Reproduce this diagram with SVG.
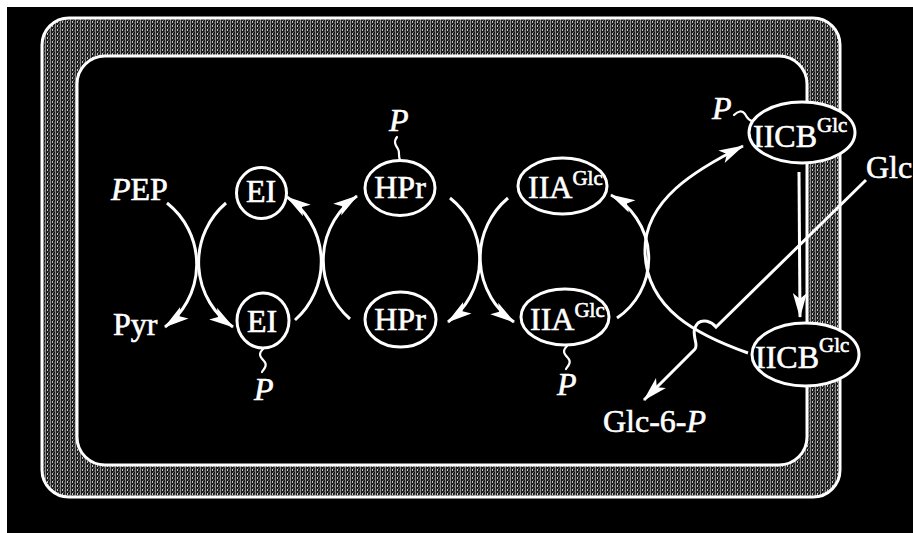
<svg xmlns="http://www.w3.org/2000/svg" width="913" height="533" viewBox="0 0 913 533">
  <style>
    .t { font-family: "Liberation Serif", "Times New Roman", serif; font-size: 32px; fill: #fff; stroke: #fff; stroke-width: 0.6; }
    .i { font-style: italic; }
    .sup { font-size: 21px; }
    .node { fill: #000; stroke: #fff; stroke-width: 3; }
    .arc { fill: none; stroke: #fff; stroke-width: 3; }
    .tilde { fill: none; stroke: #fff; stroke-width: 2.2; stroke-linecap: round; }
    .membrane { stroke: #fff; stroke-width: 3; }
  </style>
  <defs>
    <!-- grainy fill of the cell envelope -->
    <pattern id="grain" width="5" height="4" patternUnits="userSpaceOnUse">
      <rect width="5" height="4" fill="#1c1c1c"/>
      <rect x="0" y="0" width="1" height="4" fill="#8a8a8a"/>
      <rect x="2" y="1" width="1" height="2" fill="#c8c8c8"/>
      <rect x="3" y="0" width="1" height="1" fill="#606060"/>
      <rect x="4" y="2" width="1" height="2" fill="#4a4a4a"/>
    </pattern>
    <marker id="head" viewBox="-25 -8 26 16" refX="0" refY="0" markerWidth="26" markerHeight="16" markerUnits="userSpaceOnUse" orient="auto">
      <path d="M1,0 L-24,-7 L-18,0 L-24,7 Z" fill="#fff"/>
    </marker>
  </defs>

  <!-- background -->
  <rect width="913" height="533" fill="#fff"/>
  <rect x="7" y="7" width="906" height="526" fill="#000"/>

  <!-- cell envelope -->
  <g id="envelope">
    <rect class="membrane" x="42" y="18" width="798" height="479" rx="27" fill="url(#grain)"/>
    <rect class="membrane" x="77" y="56" width="730" height="409" rx="28" fill="#000"/>
  </g>

  <!-- connectors -->
  <g id="connectors">
    <!-- PEP -> Pyr / EI -> EI~P -->
    <path class="arc" d="M167,203 A78,78 0 0,1 165,327" marker-end="url(#head)"/>
    <path class="arc" d="M226,203 A78,78 0 0,0 233,327" marker-end="url(#head)"/>
    <!-- EI~P -> EI / HPr -> HPr~P -->
    <path class="arc" d="M295,320 A78,78 0 0,0 287,197" marker-end="url(#head)"/>
    <path class="arc" d="M350,319 A78,78 0 0,1 357,196" marker-end="url(#head)"/>
    <!-- HPr~P -> HPr / IIA -> IIA~P -->
    <path class="arc" d="M450,198 A78,78 0 0,1 448,322" marker-end="url(#head)"/>
    <path class="arc" d="M508,198 A78,78 0 0,0 514,322" marker-end="url(#head)"/>
    <!-- IIA~P -> IIA / IICB -> IICB~P -->
    <path class="arc" d="M617,318 A72,72 0 0,0 611,195" marker-end="url(#head)"/>
    <path class="arc" d="M748,353 C700,336 645,310 645,250 C645,200 695,170 743,146" marker-end="url(#head)"/>
    <!-- IICB~P -> IICB -->
    <path class="arc" d="M799,172 L800,317" stroke-width="4" marker-end="url(#head)"/>
    <!-- Glc -> Glc-6-P, hopping over the arc -->
    <path class="arc" d="M866,180 L716,327 C711,321 703,319 698,323 C693,328 694,334 695,339 C696,344 697,346 695,349 L644,400" marker-end="url(#head)"/>
  </g>

  <!-- metabolites -->
  <g id="pep"><text class="t" x="111" y="200"><tspan class="i">P</tspan>EP</text></g>
  <g id="pyr"><text class="t" x="113" y="335">Pyr</text></g>
  <g id="glc"><text class="t" x="866" y="178" font-size="31">Glc</text></g>
  <g id="glc6p"><text class="t" x="603" y="432" font-size="33">Glc-6-<tspan class="i">P</tspan></text></g>

  <!-- enzyme I -->
  <g id="ei">
    <ellipse class="node" cx="261.5" cy="193" rx="25" ry="25.5"/>
    <text class="t" x="261" y="202" text-anchor="middle">EI</text>
  </g>
  <g id="ei-p">
    <ellipse class="node" cx="263" cy="320.5" rx="26" ry="27.5"/>
    <text class="t" x="262" y="332" text-anchor="middle">EI</text>
    <path class="tilde" d="M263,349 C258,354 260,357 264,361 C268,365 264,369 262,372"/>
    <text class="t i" x="254" y="400" font-size="34">P</text>
  </g>

  <!-- HPr -->
  <g id="hpr-p">
    <ellipse class="node" cx="400" cy="188" rx="35" ry="27.5"/>
    <text class="t" x="400" y="198" text-anchor="middle">HPr</text>
    <path class="tilde" d="M397,137 C393,142 396,146 398,149 C400,152 398,156 400,160"/>
    <text class="t i" x="389" y="131" font-size="34">P</text>
  </g>
  <g id="hpr">
    <ellipse class="node" cx="400.5" cy="319.5" rx="35.5" ry="27.5"/>
    <text class="t" x="400" y="330" text-anchor="middle">HPr</text>
  </g>

  <!-- IIA Glc -->
  <g id="iia">
    <ellipse class="node" cx="562.5" cy="186" rx="44.5" ry="28"/>
    <text class="t" x="528" y="198">IIA<tspan class="sup" dy="-13">Glc</tspan></text>
  </g>
  <g id="iia-p">
    <ellipse class="node" cx="565" cy="317" rx="44" ry="28"/>
    <text class="t" x="530" y="330">IIA<tspan class="sup" dy="-13">Glc</tspan></text>
    <path class="tilde" d="M567,346 C562,351 564,354 568,358 C572,362 568,366 566,369"/>
    <text class="t i" x="557" y="395" font-size="34">P</text>
  </g>

  <!-- IICB Glc -->
  <g id="iicb-p">
    <ellipse class="node" cx="802" cy="132.5" rx="53" ry="30.5"/>
    <text class="t" x="753" y="147">IICB<tspan class="sup" dy="-15">Glc</tspan></text>
    <path class="tilde" d="M734,115 C738,111 742,110 745,114 C747,118 750,121 753,121"/>
    <text class="t i" x="712" y="119" font-size="31">P</text>
  </g>
  <g id="iicb">
    <ellipse class="node" cx="805.5" cy="354.5" rx="53.5" ry="31.5"/>
    <text class="t" x="755" y="368" font-size="33">IICB<tspan class="sup" dy="-16">Glc</tspan></text>
  </g>
</svg>
